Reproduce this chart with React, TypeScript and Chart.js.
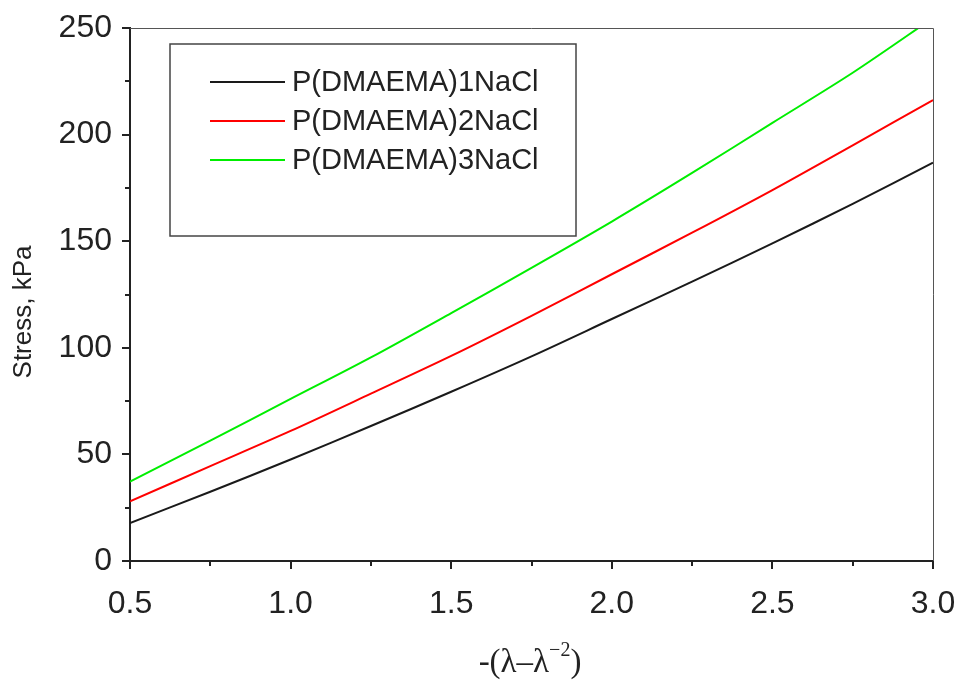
import React, { useEffect, useRef } from "react";
import { Chart, registerables } from "chart.js";

Chart.register(...registerables);

const xValues = [0.5, 0.75, 1.0, 1.25, 1.5, 1.75, 2.0, 2.25, 2.5, 2.75, 3.0];
const series1 = [17.8, 32.5, 47.6, 63.3, 79.4, 96.0, 113.5, 131.0, 149.0, 167.5, 186.8];
const series2 = [28.0, 44.5, 61.0, 78.5, 96.2, 115.0, 134.5, 154.0, 174.0, 195.0, 216.2];
const series3 = [37.2, 56.5, 76.0, 95.5, 116.3, 137.5, 159.2, 182.0, 205.5, 229.0, 254.7];
const seriesNames = ["P(DMAEMA)1NaCl", "P(DMAEMA)2NaCl", "P(DMAEMA)3NaCl"];
const seriesColors = ["#1a1a1a", "#ff0000", "#00ee00"];
const yMinorTicks = [25, 75, 125, 175, 225];
const xMinorTicks = [0.75, 1.25, 1.75, 2.25, 2.75];
const yTitle = "Stress, kPa";

const decorPlugin = {
  id: "decor",
  afterDraw(chart: any) {
    const ctx = chart.ctx;
    const { left, right, top, bottom } = chart.chartArea;
    const xs = chart.scales.x;
    const ys = chart.scales.y;
    ctx.save();
    // top & right frame
    ctx.strokeStyle = "#555";
    ctx.lineWidth = 1;
    ctx.beginPath();
    ctx.moveTo(left, top + 0.5);
    ctx.lineTo(right + 0.5, top + 0.5);
    ctx.lineTo(right + 0.5, bottom);
    ctx.stroke();
    // minor ticks
    ctx.strokeStyle = "#222";
    ctx.lineWidth = 2;
    ctx.beginPath();
    yMinorTicks.forEach((v) => {
      const py = Math.round(ys.getPixelForValue(v));
      ctx.moveTo(left - 5, py);
      ctx.lineTo(left, py);
    });
    xMinorTicks.forEach((v) => {
      const px = Math.round(xs.getPixelForValue(v));
      ctx.moveTo(px, bottom);
      ctx.lineTo(px, bottom + 5);
    });
    ctx.stroke();

    // legend box
    const lx = 170, ly = 44, lw = 406, lh = 192;
    ctx.strokeStyle = "#444";
    ctx.lineWidth = 1.5;
    ctx.strokeRect(lx, ly, lw, lh);
    ctx.font = "29px 'Liberation Sans', Arial, sans-serif";
    ctx.textBaseline = "middle";
    ctx.textAlign = "left";
    seriesNames.forEach((name, i) => {
      const yy = 82 + i * 39;
      ctx.strokeStyle = seriesColors[i];
      ctx.lineWidth = 2;
      ctx.beginPath();
      ctx.moveTo(210, yy);
      ctx.lineTo(285, yy);
      ctx.stroke();
      ctx.fillStyle = "#222";
      ctx.fillText(name, 292, yy + 1);
    });

    // y title
    ctx.save();
    ctx.translate(24, 312);
    ctx.rotate(-Math.PI / 2);
    ctx.font = "26px 'Liberation Sans', Arial, sans-serif";
    ctx.textAlign = "center";
    ctx.textBaseline = "middle";
    ctx.fillStyle = "#222";
    ctx.fillText(yTitle, 0, 0);
    ctx.restore();

    // x title: -(λ–λ^-2)
    ctx.textBaseline = "alphabetic";
    ctx.textAlign = "left";
    ctx.fillStyle = "#222";
    const part1 = "-(λ–λ";
    const sup = "−2";
    const part3 = ")";
    const bigFont = "33px 'Liberation Serif', 'Times New Roman', serif";
    const smallFont = "20px 'Liberation Serif', 'Times New Roman', serif";
    ctx.font = bigFont;
    const w1 = ctx.measureText(part1).width;
    ctx.font = smallFont;
    const w2 = ctx.measureText(sup).width;
    ctx.font = bigFont;
    const w3 = ctx.measureText(part3).width;
    const total = w1 + w2 + w3;
    let sx = 530 - total / 2;
    const base = 672;
    ctx.fillText(part1, sx, base);
    sx += w1;
    ctx.font = smallFont;
    ctx.fillText(sup, sx, base - 16);
    sx += w2;
    ctx.font = bigFont;
    ctx.fillText(part3, sx, base);
    ctx.restore();
  },
};

export default function App() {
  const ref = useRef<HTMLCanvasElement | null>(null);
  useEffect(() => {
    document.body.style.margin = "0";
    const makeData = (ys: number[]) => xValues.map((x, i) => ({ x, y: ys[i] }));
    const datasets = [series1, series2, series3].map((s, i) => ({
      label: seriesNames[i],
      data: makeData(s),
      borderColor: seriesColors[i],
      backgroundColor: seriesColors[i],
      borderWidth: 2,
      pointRadius: 0,
      tension: 0.3,
      fill: false,
    }));
    const chart = new Chart(ref.current as HTMLCanvasElement, {
      type: "line",
      data: { datasets },
      options: {
        animation: false,
        responsive: false,
        layout: { padding: { top: 28, right: 27, left: 0, bottom: 0 } },
        plugins: { legend: { display: false }, tooltip: { enabled: false } },
        scales: {
          x: {
            type: "linear",
            min: 0.5,
            max: 3.0,
            afterFit: (s: any) => { s.height = 120; s.paddingLeft = 0; s.paddingRight = 0; },
            ticks: {
              stepSize: 0.5,
              color: "#222",
              padding: 16,
              font: { size: 32, family: "'Liberation Sans', Arial, sans-serif" },
              callback: (v: any) => Number(v).toFixed(1),
              maxRotation: 0,
            },
            grid: { drawOnChartArea: false, tickLength: 8, color: "#222", lineWidth: 2 },
            border: { color: "#222", width: 2 },
          },
          y: {
            type: "linear",
            min: 0,
            max: 250,
            afterFit: (s: any) => { s.width = 130; s.paddingTop = 0; s.paddingBottom = 0; },
            ticks: {
              stepSize: 50,
              color: "#222",
              padding: 10,
              font: { size: 32, family: "'Liberation Sans', Arial, sans-serif" },
            },
            grid: { drawOnChartArea: false, tickLength: 8, color: "#222", lineWidth: 2 },
            border: { color: "#222", width: 2 },
          },
        },
      },
      plugins: [decorPlugin],
    });
    return () => chart.destroy();
  }, []);
  return (
    <div style={{ width: 960, height: 681 }}>
      <canvas ref={ref} width={960} height={681} style={{ display: "block" }} />
    </div>
  );
}
